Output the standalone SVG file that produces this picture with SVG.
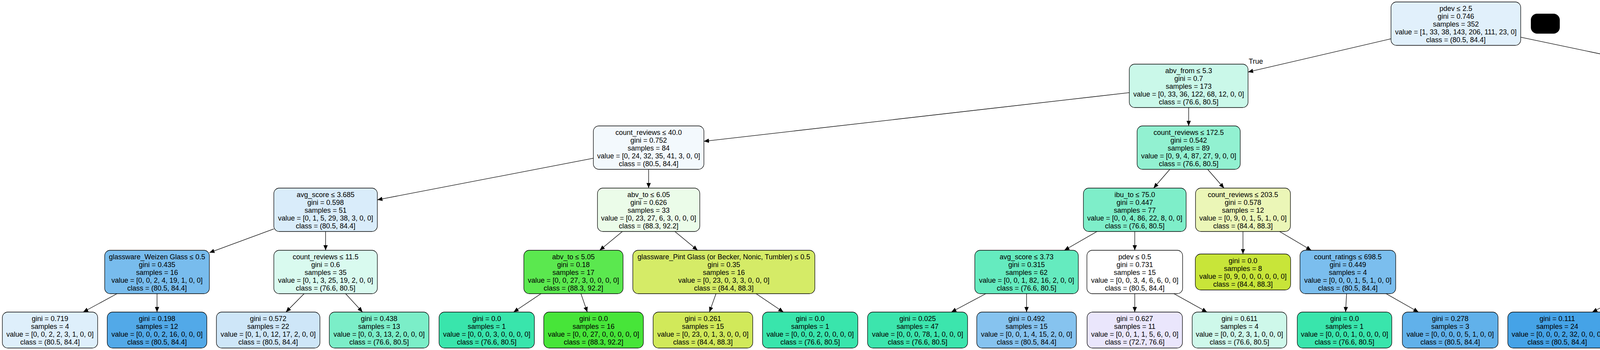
<svg xmlns="http://www.w3.org/2000/svg" width="5786" height="895" viewBox="0 0 5786 895">
<style>
.nd rect{stroke:#000;stroke-width:1.3}
text{font-family:"Liberation Sans",Arial,Helvetica,sans-serif;font-size:18px;text-anchor:middle;fill:#000}
.edges line{stroke:#000;stroke-width:1.3;marker-end:url(#ah)}
</style>
<defs>
<marker id="ah" markerUnits="userSpaceOnUse" markerWidth="14" markerHeight="11" refX="13" refY="5.5" orient="auto"><path d="M0,0 L13,5.5 L0,11 z" fill="#000"/></marker>
</defs>
<rect width="5786" height="895" fill="#fff"/>
<g class="edges">
<line x1="3561" y1="99.1" x2="3195" y2="184.2"/>
<line x1="3893" y1="95.2" x2="4340" y2="188.7"/>
<line x1="2891" y1="236.9" x2="1802" y2="361.3"/>
<line x1="3043" y1="275" x2="3043" y2="322"/>
<line x1="4487.5" y1="275" x2="4487.5" y2="322"/>
<line x1="4635" y1="267.3" x2="4843" y2="334.6"/>
<line x1="1519" y1="404.7" x2="966" y2="511"/>
<line x1="1660.5" y1="433" x2="1660.5" y2="481"/>
<line x1="2994.8" y1="433" x2="2953.2" y2="481"/>
<line x1="3091.5" y1="433" x2="3133.5" y2="481"/>
<line x1="4435.1" y1="433" x2="4389.9" y2="481"/>
<line x1="4540" y1="433" x2="4594.5" y2="490.5"/>
<line x1="4975.5" y1="433" x2="4975.5" y2="481"/>
<line x1="5108" y1="429.8" x2="5251" y2="486.2"/>
<line x1="701" y1="585.3" x2="536" y2="646.1"/>
<line x1="833.5" y1="592" x2="833.5" y2="640"/>
<line x1="1593.3" y1="592" x2="1535.2" y2="640"/>
<line x1="1727.7" y1="592" x2="1785.8" y2="640"/>
<line x1="2808.3" y1="592" x2="2724.7" y2="640"/>
<line x1="2905" y1="592" x2="2905" y2="640"/>
<line x1="3182" y1="592" x2="3182" y2="649.5"/>
<line x1="3275.7" y1="592" x2="3356.8" y2="640"/>
<line x1="4316" y1="592" x2="4297.5" y2="640"/>
<line x1="4415.2" y1="592" x2="4482.3" y2="640"/>
<line x1="4924.5" y1="592" x2="4871.7" y2="649.5"/>
<line x1="5020.2" y1="592" x2="5058.8" y2="640"/>
<line x1="5378.5" y1="592" x2="5378.5" y2="649.5"/>
<line x1="5474.3" y1="592" x2="5573.6" y2="649.5"/>
<line x1="299.6" y1="751" x2="212.9" y2="798"/>
<line x1="402" y1="751" x2="402" y2="798"/>
<line x1="778.6" y1="751" x2="732" y2="798"/>
<line x1="884.7" y1="751" x2="928.1" y2="798"/>
<line x1="1385" y1="751" x2="1314.8" y2="798"/>
<line x1="1487.2" y1="751" x2="1503.5" y2="798"/>
<line x1="1833" y1="751" x2="1816.1" y2="798"/>
<line x1="1935.6" y1="751" x2="2005.5" y2="798"/>
<line x1="2523.7" y1="751" x2="2435.4" y2="798"/>
<line x1="2628" y1="751" x2="2628" y2="798"/>
<line x1="2905" y1="751" x2="2905" y2="798"/>
<line x1="3005.2" y1="751" x2="3090" y2="798"/>
<line x1="3447.3" y1="751" x2="3444.6" y2="798"/>
<line x1="3548.4" y1="751" x2="3631.3" y2="798"/>
<line x1="4167.8" y1="751" x2="4076.2" y2="798"/>
<line x1="4276" y1="751" x2="4276" y2="798"/>
<line x1="4560" y1="751" x2="4560" y2="798"/>
<line x1="4660.7" y1="751" x2="4746" y2="798"/>
<line x1="5103.5" y1="751" x2="5103.5" y2="798"/>
<line x1="5208.3" y1="751" x2="5297.1" y2="798"/>
<text x="3215" y="163">True</text>
<text x="4320" y="178">False</text>
</g>
<rect x="3919" y="35" width="74" height="51" rx="16" fill="#000"/>

<g id="n0" class="nd" transform="translate(3561,5)"><rect width="332" height="111" rx="14" fill="#e1f0fb"/><text><tspan x="166" y="23">pdev ≤ 2.5</tspan><tspan x="166" y="43">gini = 0.746</tspan><tspan x="166" y="63">samples = 352</tspan><tspan x="166" y="83">value = [1, 33, 38, 143, 206, 111, 23, 0]</tspan><tspan x="166" y="103">class = (80.5, 84.4]</tspan></text></g>

<g id="n1" class="nd" transform="translate(2891,164)"><rect width="304" height="111" rx="14" fill="#caf8e9"/><text><tspan x="152" y="23">abv_from ≤ 5.3</tspan><tspan x="152" y="43">gini = 0.7</tspan><tspan x="152" y="63">samples = 173</tspan><tspan x="152" y="83">value = [0, 33, 36, 122, 68, 12, 0, 0]</tspan><tspan x="152" y="103">class = (76.6, 80.5]</tspan></text></g>

<g id="n2" class="nd" transform="translate(4340,164)"><rect width="295" height="111" rx="14" fill="#d5eafa"/><text><tspan x="147.5" y="23">avg ≤ 3.975</tspan><tspan x="147.5" y="43">gini = 0.63</tspan><tspan x="147.5" y="63">samples = 179</tspan><tspan x="147.5" y="83">value = [1, 0, 2, 21, 138, 99, 23, 0]</tspan><tspan x="147.5" y="103">class = (80.5, 84.4]</tspan></text></g>

<g id="n3" class="nd" transform="translate(1519,322)"><rect width="283" height="111" rx="14" fill="#f3f9fd"/><text><tspan x="141.5" y="23">count_reviews ≤ 40.0</tspan><tspan x="141.5" y="43">gini = 0.752</tspan><tspan x="141.5" y="63">samples = 84</tspan><tspan x="141.5" y="83">value = [0, 24, 32, 35, 41, 3, 0, 0]</tspan><tspan x="141.5" y="103">class = (80.5, 84.4]</tspan></text></g>

<g id="n4" class="nd" transform="translate(2911,322)"><rect width="264" height="111" rx="14" fill="#92f1d1"/><text><tspan x="132" y="23">count_reviews ≤ 172.5</tspan><tspan x="132" y="43">gini = 0.542</tspan><tspan x="132" y="63">samples = 89</tspan><tspan x="132" y="83">value = [0, 9, 4, 87, 27, 9, 0, 0]</tspan><tspan x="132" y="103">class = (76.6, 80.5]</tspan></text></g>

<g id="n5" class="nd" transform="translate(4322.5,322)"><rect width="330" height="111" rx="14" fill="#63b2ea"/><text><tspan x="165" y="23">glassware_Mug (or Seidel, Stein) ≤ 0.5</tspan><tspan x="165" y="43">gini = 0.317</tspan><tspan x="165" y="63">samples = 107</tspan><tspan x="165" y="83">value = [1, 0, 2, 21, 137, 7, 0, 0]</tspan><tspan x="165" y="103">class = (80.5, 84.4]</tspan></text></g>

<g id="n6" class="nd" transform="translate(4843,322)"><rect width="265" height="111" rx="14" fill="#826cec"/><text><tspan x="132.5" y="23">avg ≤ 4.275</tspan><tspan x="132.5" y="43">gini = 0.332</tspan><tspan x="132.5" y="63">samples = 72</tspan><tspan x="132.5" y="83">value = [0, 0, 0, 0, 1, 92, 23, 0]</tspan><tspan x="132.5" y="103">class = (72.7, 76.6]</tspan></text></g>

<g id="n7" class="nd" transform="translate(701,481)"><rect width="265" height="111" rx="14" fill="#d9ecfa"/><text><tspan x="132.5" y="23">avg_score ≤ 3.685</tspan><tspan x="132.5" y="43">gini = 0.598</tspan><tspan x="132.5" y="63">samples = 51</tspan><tspan x="132.5" y="83">value = [0, 1, 5, 29, 38, 3, 0, 0]</tspan><tspan x="132.5" y="103">class = (80.5, 84.4]</tspan></text></g>

<g id="n8" class="nd" transform="translate(1529.5,481)"><rect width="262" height="111" rx="14" fill="#ebfce9"/><text><tspan x="131" y="23">abv_to ≤ 6.05</tspan><tspan x="131" y="43">gini = 0.626</tspan><tspan x="131" y="63">samples = 33</tspan><tspan x="131" y="83">value = [0, 23, 27, 6, 3, 0, 0, 0]</tspan><tspan x="131" y="103">class = (88.3, 92.2]</tspan></text></g>

<g id="n9" class="nd" transform="translate(2773.5,481)"><rect width="263" height="111" rx="14" fill="#7eeec9"/><text><tspan x="131.5" y="23">ibu_to ≤ 75.0</tspan><tspan x="131.5" y="43">gini = 0.447</tspan><tspan x="131.5" y="63">samples = 77</tspan><tspan x="131.5" y="83">value = [0, 0, 4, 86, 22, 8, 0, 0]</tspan><tspan x="131.5" y="103">class = (76.6, 80.5]</tspan></text></g>

<g id="n10" class="nd" transform="translate(3060.5,481)"><rect width="243" height="111" rx="14" fill="#ebf6b7"/><text><tspan x="121.5" y="23">count_reviews ≤ 203.5</tspan><tspan x="121.5" y="43">gini = 0.578</tspan><tspan x="121.5" y="63">samples = 12</tspan><tspan x="121.5" y="83">value = [0, 9, 0, 1, 5, 1, 0, 0]</tspan><tspan x="121.5" y="103">class = (84.4, 88.3]</tspan></text></g>

<g id="n11" class="nd" transform="translate(4183,481)"><rect width="309" height="111" rx="14" fill="#5fb0ea"/><text><tspan x="154.5" y="23">glassware_Goblet (or Chalice) ≤ 0.5</tspan><tspan x="154.5" y="43">gini = 0.297</tspan><tspan x="154.5" y="63">samples = 105</tspan><tspan x="154.5" y="83">value = [1, 0, 2, 18, 137, 7, 0, 0]</tspan><tspan x="154.5" y="103">class = (80.5, 84.4]</tspan></text></g>

<g id="n12" class="nd" transform="translate(4516,490.5)"><rect width="244" height="92" rx="14" fill="#39e5ac"/><text><tspan x="122" y="23">gini = 0.0</tspan><tspan x="122" y="43">samples = 2</tspan><tspan x="122" y="63">value = [0, 0, 0, 3, 0, 0, 0, 0]</tspan><tspan x="122" y="83">class = (76.6, 80.5]</tspan></text></g>

<g id="n13" class="nd" transform="translate(4848.5,481)"><rect width="254" height="111" rx="14" fill="#674de8"/><text><tspan x="127" y="23">avg_score ≤ 3.64</tspan><tspan x="127" y="43">gini = 0.17</tspan><tspan x="127" y="63">samples = 63</tspan><tspan x="127" y="83">value = [0, 0, 0, 0, 1, 88, 8, 0]</tspan><tspan x="127" y="103">class = (72.7, 76.6]</tspan></text></g>

<g id="n14" class="nd" transform="translate(5251,481)"><rect width="255" height="111" rx="14" fill="#e26eec"/><text><tspan x="127.5" y="23">count_ratings ≤ 16.5</tspan><tspan x="127.5" y="43">gini = 0.332</tspan><tspan x="127.5" y="63">samples = 9</tspan><tspan x="127.5" y="83">value = [0, 0, 0, 0, 0, 4, 15, 0]</tspan><tspan x="127.5" y="103">class = (96.1, 100.0]</tspan></text></g>

<g id="n15" class="nd" transform="translate(268,640)"><rect width="268" height="111" rx="14" fill="#78bced"/><text><tspan x="134" y="23">glassware_Weizen Glass ≤ 0.5</tspan><tspan x="134" y="43">gini = 0.435</tspan><tspan x="134" y="63">samples = 16</tspan><tspan x="134" y="83">value = [0, 0, 2, 4, 19, 1, 0, 0]</tspan><tspan x="134" y="103">class = (80.5, 84.4]</tspan></text></g>

<g id="n16" class="nd" transform="translate(701,640)"><rect width="265" height="111" rx="14" fill="#d9faef"/><text><tspan x="132.5" y="23">count_reviews ≤ 11.5</tspan><tspan x="132.5" y="43">gini = 0.6</tspan><tspan x="132.5" y="63">samples = 35</tspan><tspan x="132.5" y="83">value = [0, 1, 3, 25, 19, 2, 0, 0]</tspan><tspan x="132.5" y="103">class = (76.6, 80.5]</tspan></text></g>

<g id="n17" class="nd" transform="translate(1341,640)"><rect width="254" height="111" rx="14" fill="#5be84f"/><text><tspan x="127" y="23">abv_to ≤ 5.05</tspan><tspan x="127" y="43">gini = 0.18</tspan><tspan x="127" y="63">samples = 17</tspan><tspan x="127" y="83">value = [0, 0, 27, 3, 0, 0, 0, 0]</tspan><tspan x="127" y="103">class = (88.3, 92.2]</tspan></text></g>

<g id="n18" class="nd" transform="translate(1620,640)"><rect width="466" height="111" rx="14" fill="#d5eb67"/><text><tspan x="233" y="23">glassware_Pint Glass (or Becker, Nonic, Tumbler) ≤ 0.5</tspan><tspan x="233" y="43">gini = 0.35</tspan><tspan x="233" y="63">samples = 16</tspan><tspan x="233" y="83">value = [0, 23, 0, 3, 3, 0, 0, 0]</tspan><tspan x="233" y="103">class = (84.4, 88.3]</tspan></text></g>

<g id="n19" class="nd" transform="translate(2495.5,640)"><rect width="265" height="111" rx="14" fill="#65ebbf"/><text><tspan x="132.5" y="23">avg_score ≤ 3.73</tspan><tspan x="132.5" y="43">gini = 0.315</tspan><tspan x="132.5" y="63">samples = 62</tspan><tspan x="132.5" y="83">value = [0, 0, 1, 82, 16, 2, 0, 0]</tspan><tspan x="132.5" y="103">class = (76.6, 80.5]</tspan></text></g>

<g id="n20" class="nd" transform="translate(2782.5,640)"><rect width="245" height="111" rx="14" fill="#ffffff"/><text><tspan x="122.5" y="23">pdev ≤ 0.5</tspan><tspan x="122.5" y="43">gini = 0.731</tspan><tspan x="122.5" y="63">samples = 15</tspan><tspan x="122.5" y="83">value = [0, 0, 3, 4, 6, 6, 0, 0]</tspan><tspan x="122.5" y="103">class = (80.5, 84.4]</tspan></text></g>

<g id="n21" class="nd" transform="translate(3060,649.5)"><rect width="244" height="92" rx="14" fill="#c8e539"/><text><tspan x="122" y="23">gini = 0.0</tspan><tspan x="122" y="43">samples = 8</tspan><tspan x="122" y="63">value = [0, 9, 0, 0, 0, 0, 0, 0]</tspan><tspan x="122" y="83">class = (84.4, 88.3]</tspan></text></g>

<g id="n22" class="nd" transform="translate(3328,640)"><rect width="245" height="111" rx="14" fill="#7bbeee"/><text><tspan x="122.5" y="23">count_ratings ≤ 698.5</tspan><tspan x="122.5" y="43">gini = 0.449</tspan><tspan x="122.5" y="63">samples = 4</tspan><tspan x="122.5" y="83">value = [0, 0, 0, 1, 5, 1, 0, 0]</tspan><tspan x="122.5" y="103">class = (80.5, 84.4]</tspan></text></g>

<g id="n23" class="nd" transform="translate(4139,640)"><rect width="274" height="111" rx="14" fill="#5aade9"/><text><tspan x="137" y="23">country_United States ≤ 0.5</tspan><tspan x="137" y="43">gini = 0.272</tspan><tspan x="137" y="63">samples = 100</tspan><tspan x="137" y="83">value = [1, 0, 2, 14, 133, 7, 0, 0]</tspan><tspan x="137" y="103">class = (80.5, 84.4]</tspan></text></g>

<g id="n24" class="nd" transform="translate(4438,640)"><rect width="244" height="111" rx="14" fill="#ffffff"/><text><tspan x="122" y="23">count_ratings ≤ 60.5</tspan><tspan x="122" y="43">gini = 0.5</tspan><tspan x="122" y="63">samples = 5</tspan><tspan x="122" y="83">value = [0, 0, 0, 4, 4, 0, 0, 0]</tspan><tspan x="122" y="103">class = (76.6, 80.5]</tspan></text></g>

<g id="n25" class="nd" transform="translate(4708,649.5)"><rect width="243" height="92" rx="14" fill="#d739e5"/><text><tspan x="121.5" y="23">gini = 0.0</tspan><tspan x="121.5" y="43">samples = 1</tspan><tspan x="121.5" y="63">value = [0, 0, 0, 0, 0, 0, 2, 0]</tspan><tspan x="121.5" y="83">class = (96.1, 100.0]</tspan></text></g>

<g id="n26" class="nd" transform="translate(4976,640)"><rect width="255" height="111" rx="14" fill="#6349e7"/><text><tspan x="127.5" y="23">count_reviews ≤ 23.0</tspan><tspan x="127.5" y="43">gini = 0.138</tspan><tspan x="127.5" y="63">samples = 62</tspan><tspan x="127.5" y="83">value = [0, 0, 0, 0, 1, 88, 6, 0]</tspan><tspan x="127.5" y="103">class = (72.7, 76.6]</tspan></text></g>

<g id="n27" class="nd" transform="translate(5257.5,649.5)"><rect width="242" height="92" rx="14" fill="#5639e5"/><text><tspan x="121" y="23">gini = 0.0</tspan><tspan x="121" y="43">samples = 3</tspan><tspan x="121" y="63">value = [0, 0, 0, 0, 0, 4, 0, 0]</tspan><tspan x="121" y="83">class = (72.7, 76.6]</tspan></text></g>

<g id="n28" class="nd" transform="translate(5526,649.5)"><rect width="254" height="92" rx="14" fill="#d739e5"/><text><tspan x="127" y="23">gini = 0.0</tspan><tspan x="127" y="43">samples = 6</tspan><tspan x="127" y="63">value = [0, 0, 0, 0, 0, 0, 15, 0]</tspan><tspan x="127" y="83">class = (96.1, 100.0]</tspan></text></g>

<g id="l0" class="nd" transform="translate(6,798)"><rect width="244" height="92" rx="14" fill="#deeffb"/><text><tspan x="122" y="23">gini = 0.719</tspan><tspan x="122" y="43">samples = 4</tspan><tspan x="122" y="63">value = [0, 0, 2, 2, 3, 1, 0, 0]</tspan><tspan x="122" y="83">class = (80.5, 84.4]</tspan></text></g>

<g id="l1" class="nd" transform="translate(274.5,798)"><rect width="255" height="92" rx="14" fill="#52a9e8"/><text><tspan x="127.5" y="23">gini = 0.198</tspan><tspan x="127.5" y="43">samples = 12</tspan><tspan x="127.5" y="63">value = [0, 0, 0, 2, 16, 0, 0, 0]</tspan><tspan x="127.5" y="83">class = (80.5, 84.4]</tspan></text></g>

<g id="l2" class="nd" transform="translate(554,798)"><rect width="265" height="92" rx="14" fill="#cee6f8"/><text><tspan x="132.5" y="23">gini = 0.572</tspan><tspan x="132.5" y="43">samples = 22</tspan><tspan x="132.5" y="63">value = [0, 1, 0, 12, 17, 2, 0, 0]</tspan><tspan x="132.5" y="83">class = (80.5, 84.4]</tspan></text></g>

<g id="l3" class="nd" transform="translate(843,798)"><rect width="255" height="92" rx="14" fill="#7beec8"/><text><tspan x="127.5" y="23">gini = 0.438</tspan><tspan x="127.5" y="43">samples = 13</tspan><tspan x="127.5" y="63">value = [0, 0, 3, 13, 2, 0, 0, 0]</tspan><tspan x="127.5" y="83">class = (76.6, 80.5]</tspan></text></g>

<g id="l4" class="nd" transform="translate(1124,798)"><rect width="244" height="92" rx="14" fill="#39e5ac"/><text><tspan x="122" y="23">gini = 0.0</tspan><tspan x="122" y="43">samples = 1</tspan><tspan x="122" y="63">value = [0, 0, 0, 3, 0, 0, 0, 0]</tspan><tspan x="122" y="83">class = (76.6, 80.5]</tspan></text></g>

<g id="l5" class="nd" transform="translate(1392,798)"><rect width="255" height="92" rx="14" fill="#47e539"/><text><tspan x="127.5" y="23">gini = 0.0</tspan><tspan x="127.5" y="43">samples = 16</tspan><tspan x="127.5" y="63">value = [0, 0, 27, 0, 0, 0, 0, 0]</tspan><tspan x="127.5" y="83">class = (88.3, 92.2]</tspan></text></g>

<g id="l6" class="nd" transform="translate(1672,798)"><rect width="255" height="92" rx="14" fill="#d1e95a"/><text><tspan x="127.5" y="23">gini = 0.261</tspan><tspan x="127.5" y="43">samples = 15</tspan><tspan x="127.5" y="63">value = [0, 23, 0, 1, 3, 0, 0, 0]</tspan><tspan x="127.5" y="83">class = (84.4, 88.3]</tspan></text></g>

<g id="l7" class="nd" transform="translate(1952,798)"><rect width="244" height="92" rx="14" fill="#39e5ac"/><text><tspan x="122" y="23">gini = 0.0</tspan><tspan x="122" y="43">samples = 1</tspan><tspan x="122" y="63">value = [0, 0, 0, 2, 0, 0, 0, 0]</tspan><tspan x="122" y="83">class = (76.6, 80.5]</tspan></text></g>

<g id="l8" class="nd" transform="translate(2221,798)"><rect width="256" height="92" rx="14" fill="#3ce5ad"/><text><tspan x="128" y="23">gini = 0.025</tspan><tspan x="128" y="43">samples = 47</tspan><tspan x="128" y="63">value = [0, 0, 0, 78, 1, 0, 0, 0]</tspan><tspan x="128" y="83">class = (76.6, 80.5]</tspan></text></g>

<g id="l9" class="nd" transform="translate(2500.5,798)"><rect width="255" height="92" rx="14" fill="#86c3ef"/><text><tspan x="127.5" y="23">gini = 0.492</tspan><tspan x="127.5" y="43">samples = 15</tspan><tspan x="127.5" y="63">value = [0, 0, 1, 4, 15, 2, 0, 0]</tspan><tspan x="127.5" y="83">class = (80.5, 84.4]</tspan></text></g>

<g id="l10" class="nd" transform="translate(2783,798)"><rect width="244" height="92" rx="14" fill="#eae6fc"/><text><tspan x="122" y="23">gini = 0.627</tspan><tspan x="122" y="43">samples = 11</tspan><tspan x="122" y="63">value = [0, 0, 1, 1, 5, 6, 0, 0]</tspan><tspan x="122" y="83">class = (72.7, 76.6]</tspan></text></g>

<g id="l11" class="nd" transform="translate(3052,798)"><rect width="242" height="92" rx="14" fill="#cef8ea"/><text><tspan x="121" y="23">gini = 0.611</tspan><tspan x="121" y="43">samples = 4</tspan><tspan x="121" y="63">value = [0, 0, 2, 3, 1, 0, 0, 0]</tspan><tspan x="121" y="83">class = (76.6, 80.5]</tspan></text></g>

<g id="l12" class="nd" transform="translate(3321,798)"><rect width="242" height="92" rx="14" fill="#39e5ac"/><text><tspan x="121" y="23">gini = 0.0</tspan><tspan x="121" y="43">samples = 1</tspan><tspan x="121" y="63">value = [0, 0, 0, 1, 0, 0, 0, 0]</tspan><tspan x="121" y="83">class = (76.6, 80.5]</tspan></text></g>

<g id="l13" class="nd" transform="translate(3590,798)"><rect width="245" height="92" rx="14" fill="#61b1ea"/><text><tspan x="122.5" y="23">gini = 0.278</tspan><tspan x="122.5" y="43">samples = 3</tspan><tspan x="122.5" y="63">value = [0, 0, 0, 0, 5, 1, 0, 0]</tspan><tspan x="122.5" y="83">class = (80.5, 84.4]</tspan></text></g>

<g id="l14" class="nd" transform="translate(3860,798)"><rect width="253" height="92" rx="14" fill="#45a3e7"/><text><tspan x="126.5" y="23">gini = 0.111</tspan><tspan x="126.5" y="43">samples = 24</tspan><tspan x="126.5" y="63">value = [0, 0, 0, 2, 32, 0, 0, 0]</tspan><tspan x="126.5" y="83">class = (80.5, 84.4]</tspan></text></g>

<g id="l15" class="nd" transform="translate(4139,798)"><rect width="274" height="92" rx="14" fill="#60b0ea"/><text><tspan x="137" y="23">gini = 0.313</tspan><tspan x="137" y="43">samples = 76</tspan><tspan x="137" y="63">value = [1, 0, 2, 12, 101, 7, 0, 0]</tspan><tspan x="137" y="83">class = (80.5, 84.4]</tspan></text></g>

<g id="l16" class="nd" transform="translate(4438,798)"><rect width="244" height="92" rx="14" fill="#399de5"/><text><tspan x="122" y="23">gini = 0.0</tspan><tspan x="122" y="43">samples = 4</tspan><tspan x="122" y="63">value = [0, 0, 0, 0, 4, 0, 0, 0]</tspan><tspan x="122" y="83">class = (80.5, 84.4]</tspan></text></g>

<g id="l17" class="nd" transform="translate(4708,798)"><rect width="243" height="92" rx="14" fill="#39e5ac"/><text><tspan x="121.5" y="23">gini = 0.0</tspan><tspan x="121.5" y="43">samples = 1</tspan><tspan x="121.5" y="63">value = [0, 0, 0, 4, 0, 0, 0, 0]</tspan><tspan x="121.5" y="83">class = (76.6, 80.5]</tspan></text></g>

<g id="l18" class="nd" transform="translate(4976,798)"><rect width="255" height="92" rx="14" fill="#5d41e6"/><text><tspan x="127.5" y="23">gini = 0.075</tspan><tspan x="127.5" y="43">samples = 53</tspan><tspan x="127.5" y="63">value = [0, 0, 0, 0, 1, 75, 2, 0]</tspan><tspan x="127.5" y="83">class = (72.7, 76.6]</tspan></text></g>

<g id="l19" class="nd" transform="translate(5257,798)"><rect width="254" height="92" rx="14" fill="#8a76ed"/><text><tspan x="127" y="23">gini = 0.36</tspan><tspan x="127" y="43">samples = 9</tspan><tspan x="127" y="63">value = [0, 0, 0, 0, 0, 13, 4, 0]</tspan><tspan x="127" y="83">class = (72.7, 76.6]</tspan></text></g>
</svg>
